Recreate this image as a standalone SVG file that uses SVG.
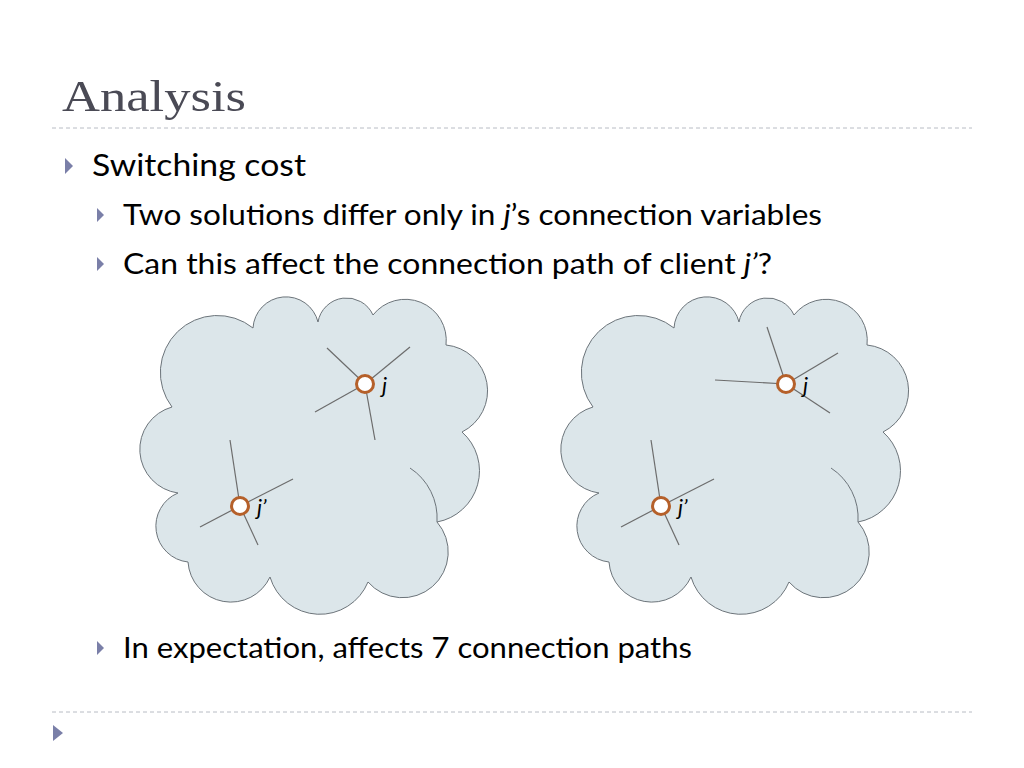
<svg xmlns="http://www.w3.org/2000/svg" width="1024" height="768" viewBox="0 0 1024 768">
<style>
.t{font-family:Lato,"Liberation Sans",sans-serif;fill:#000}
.cloud{fill:#dce6ea;stroke:#6c747a;stroke-width:1}
.inner{fill:none;stroke:#6c747a;stroke-width:1}
.sp{stroke:#6c6c6c;stroke-width:1.2}
.nd{fill:#fff;stroke:#b5602a;stroke-width:3}
.bul{fill:#7a7fa8}
.dash{stroke:#b8bcc4;stroke-width:1;stroke-dasharray:4 3}
</style>
<defs>
<g id="cloudShape">
<path class="cloud" d="M172,407 A57,57 0 0 1 253,328 A33,33 0 0 1 318,322 A29,29 0 0 1 373,315 A41,41 0 0 1 446,345 A46,46 0 0 1 462,432 A52,52 0 0 1 437,522 A42,42 0 0 1 368,582 A52,52 0 0 1 270,577 A43,43 0 0 1 188,562 A36,36 0 0 1 178,493 A44,44 0 0 1 172,407 Z"/>
<path class="inner" d="M410,468 A60,60 0 0 1 437,522"/>
</g>
</defs>
<rect width="1024" height="768" fill="#fff"/>
<text x="62" y="111" font-family="'Liberation Serif',serif" font-size="44" fill="#4a4a55" textLength="184" lengthAdjust="spacingAndGlyphs">Analysis</text>
<line class="dash" x1="52" y1="128" x2="972" y2="128"/>
<path class="bul" d="M65,158 L73,166 L65,174 Z"/>
<text class="t" x="92" y="176" font-size="31" textLength="214" lengthAdjust="spacingAndGlyphs">Switching cost</text>
<path class="bul" d="M97,208 L104,215 L97,222 Z"/>
<text class="t" x="123" y="225" font-size="28" textLength="699" lengthAdjust="spacingAndGlyphs">Two solutions differ only in <tspan font-style="italic">j</tspan>’s connection variables</text>
<path class="bul" d="M97,257 L104,264 L97,271 Z"/>
<text class="t" x="123" y="274" font-size="28" textLength="649" lengthAdjust="spacingAndGlyphs">Can this affect the connection path of client <tspan font-style="italic">j’</tspan>?</text>
<g id="cloud-left"><use href="#cloudShape"/></g>
<g id="cloud-right"><use href="#cloudShape" x="421"/></g>
<g id="connectors">
<line class="sp" x1="365" y1="384" x2="327" y2="348"/>
<line class="sp" x1="365" y1="384" x2="410" y2="347"/>
<line class="sp" x1="365" y1="384" x2="315" y2="412"/>
<line class="sp" x1="365" y1="384" x2="375" y2="440"/>
<line class="sp" x1="240" y1="506" x2="230" y2="440"/>
<line class="sp" x1="240" y1="506" x2="293" y2="479"/>
<line class="sp" x1="240" y1="506" x2="200" y2="527"/>
<line class="sp" x1="240" y1="506" x2="258" y2="545"/>
<line class="sp" x1="786" y1="384" x2="767" y2="327"/>
<line class="sp" x1="786" y1="384" x2="838" y2="353"/>
<line class="sp" x1="786" y1="384" x2="715" y2="380"/>
<line class="sp" x1="786" y1="384" x2="830" y2="413"/>
<line class="sp" x1="661" y1="506" x2="651" y2="440"/>
<line class="sp" x1="661" y1="506" x2="714" y2="479"/>
<line class="sp" x1="661" y1="506" x2="621" y2="527"/>
<line class="sp" x1="661" y1="506" x2="679" y2="545"/>
</g>
<g id="node-j-left"><circle class="nd" cx="365" cy="384" r="8.5"/><text class="t" x="382" y="393" font-size="22" font-style="italic">j</text></g>
<g id="node-jp-left"><circle class="nd" cx="240" cy="506" r="8.5"/><text class="t" x="257" y="515" font-size="22" font-style="italic">j’</text></g>
<g id="node-j-right"><circle class="nd" cx="786" cy="384" r="8.5"/><text class="t" x="803" y="393" font-size="22" font-style="italic">j</text></g>
<g id="node-jp-right"><circle class="nd" cx="661" cy="506" r="8.5"/><text class="t" x="678" y="515" font-size="22" font-style="italic">j’</text></g>
<path class="bul" d="M97,641 L104,648 L97,655 Z"/>
<text class="t" x="123" y="658" font-size="28" textLength="569" lengthAdjust="spacingAndGlyphs">In expectation, affects 7 connection paths</text>
<line class="dash" x1="52" y1="712" x2="972" y2="712"/>
<path class="bul" d="M53,725 L63,733 L53,741 Z"/>
</svg>
